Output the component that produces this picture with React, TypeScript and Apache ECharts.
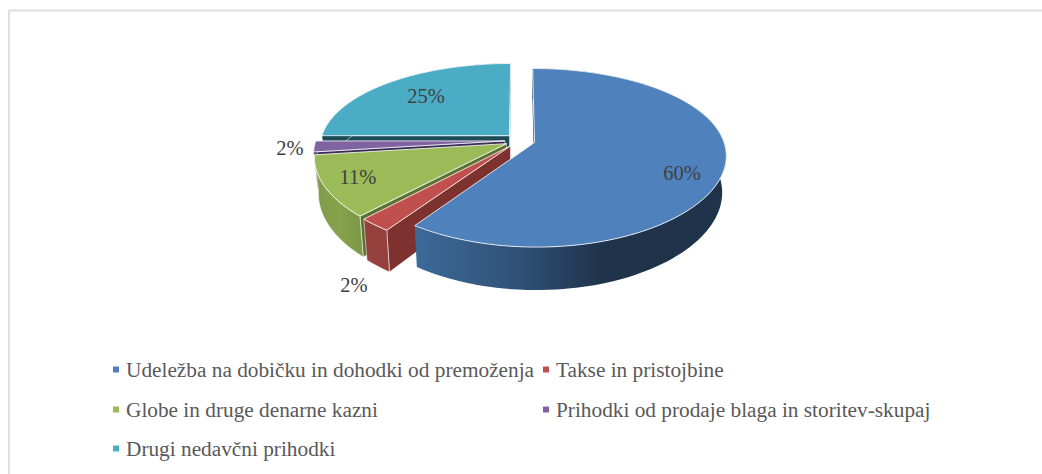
import React, { useEffect, useRef } from "react";
import * as echarts from "echarts";

const categories = [
  "Udeležba na dobičku in dohodki od premoženja",
  "Takse in pristojbine",
  "Globe in druge denarne kazni",
  "Prihodki od prodaje blaga in storitev-skupaj",
  "Drugi nedavčni prihodki",
];
const shares = [59.6, 2.4, 11, 2, 25];
const colors = ["#4f81bd", "#c0504d", "#9bbb59", "#8064a2", "#4bacc6"];

const W = 1042, H = 474;
const CX = 520, CY = 140.5, RX = 189, RY = 86, PERSP = 0.17, PERSP_X = 0.14, EXPLODE = 0.08, DEPTH = 35.5, BOTTOM_SHRINK = 0.98;
const FONT = "Liberation Serif";

// wall styling per slice: [radial wall, outer wall gradient stops]
const wallFill: any[] = [
  { radial: "#2a4566", outer: [[0, "#3c6a99"], [0.35, "#2f4f75"], [0.6, "#1f334b"], [1, "#1f334b"]] },
  { radial: "#7d3230", outer: [[0, "#96403d"], [1, "#96403d"]] },
  { radial: "#5c7234", outer: [[0, "#7f9b48"], [0.5, "#86a24c"], [1, "#7d9846"]] },
  { radial: "#3a2b55", outer: [[0, "#3a2b55"], [1, "#3a2b55"]] },
  { radial: "#1d4a57", outer: [[0, "#1d4a57"], [1, "#1d4a57"]] },
];
const labelAnchors = [[682, 173], [354, 285], [358, 177], [290, 148], [426, 96]];
const legendCells = [[113, 370], [543, 370], [113, 410], [543, 410], [113, 449]];
const drawOrder = [4, 3, 2, 1, 0];

const total = shares.reduce((a, b) => a + b, 0);
const rad = (d: number) => (d * Math.PI) / 180;

function project(u: number, v: number) {
  const w = 1 - PERSP * v;
  return { x: CX + (RX * u) / (1 - PERSP_X * v), y: CY + (RY * v) / w, w };
}
function bottomOf(p: { x: number; y: number; w: number }) {
  return { x: CX + (p.x - CX) * BOTTOM_SHRINK, y: p.y + DEPTH / p.w };
}
function makeRender(i: number) {
  const start = (shares.slice(0, i).reduce((a, b) => a + b, 0) / total) * 360;
  return (_: any, api: any) => {
    const sweep = (api.value(0) / total) * 360;
    const end = start + sweep;
    const mid = rad(start + sweep / 2);
    const ou = EXPLODE * Math.sin(mid), ov = -EXPLODE * Math.cos(mid);
    const apex = project(ou, ov);
    const steps = Math.max(4, Math.ceil(sweep / 2));
    const arc: any[] = [];
    for (let k = 0; k <= steps; k++) {
      const a = rad(start + (sweep * k) / steps);
      arc.push(project(ou + Math.sin(a), ov - Math.cos(a)));
    }
    const arcB = arc.map(bottomOf);
    const apexB = bottomOf(apex);
    const pt = (p: any) => [p.x, p.y];
    const fill = wallFill[i];
    const soft = i === 0 ? undefined : "rgba(255,255,255,0.65)";
    const wall = (pts: any[], f: any) => ({
      type: "polygon",
      shape: { points: pts.map(pt) },
      style: { fill: f, stroke: soft, lineWidth: soft ? 0.8 : 0 },
    });
    const first = arc[0], last = arc[arc.length - 1];
    const children: any[] = [];
    if (Math.sin(rad(end)) > -0.01) children.push(wall([apex, last, arcB[arcB.length - 1], apexB], fill.radial));
    if (-Math.sin(rad(start)) > -0.01) children.push(wall([apex, first, arcB[0], apexB], fill.radial));
    children.push(
      wall([...arc, ...arcB.slice().reverse()], {
        type: "linear", x: 0, y: 0, x2: 1, y2: 0,
        colorStops: fill.outer.map((s: any) => ({ offset: s[0], color: s[1] })),
      }),
      {
        type: "polygon",
        shape: { points: [apex, ...arc].map(pt) },
        style: { fill: colors[i], stroke: "rgba(255,255,255,0.8)", lineWidth: 1 },
      },
      {
        type: "text",
        z2: 100,
        style: {
          x: labelAnchors[i][0], y: labelAnchors[i][1],
          text: `${Math.round((api.value(0) / total) * 100)}%`,
          fill: "#404040", font: `20.5px "${FONT}"`, align: "center", verticalAlign: "middle",
        },
      },
    );
    return { type: "group", children };
  };
}

export default function App() {
  const ref = useRef<HTMLDivElement>(null);
  useEffect(() => {
    const chart = echarts.init(ref.current!, null, { renderer: "svg" });
    chart.setOption({
      animation: false,
      backgroundColor: "#fff",
      graphic: [
        { type: "line", shape: { x1: 9, y1: 10.5, x2: W, y2: 10.5 }, style: { stroke: "#dedede", lineWidth: 2 } },
        { type: "line", shape: { x1: 9, y1: 10, x2: 9, y2: H }, style: { stroke: "#dedede", lineWidth: 2 } },
      ],
      legend: categories.map((name, i) => ({
        data: [name],
        left: legendCells[i][0],
        top: legendCells[i][1] - 11,
        padding: 0,
        icon: "rect",
        itemWidth: 6,
        itemHeight: 6,
        selectedMode: false,
        textStyle: { fontFamily: FONT, fontSize: 21.3, color: "#595959", padding: [0, 0, 0, 2] },
      })),
      series: categories.map((name, i) => ({
        type: "custom",
        name,
        coordinateSystem: "none",
        z: 2 + drawOrder.indexOf(i),
        itemStyle: { color: colors[i] },
        data: [[shares[i]]],
        renderItem: makeRender(i),
      })),
    });
    return () => chart.dispose();
  }, []);
  return <div ref={ref} style={{ position: "fixed", left: 0, top: 0, width: W, height: H }} />;
}
